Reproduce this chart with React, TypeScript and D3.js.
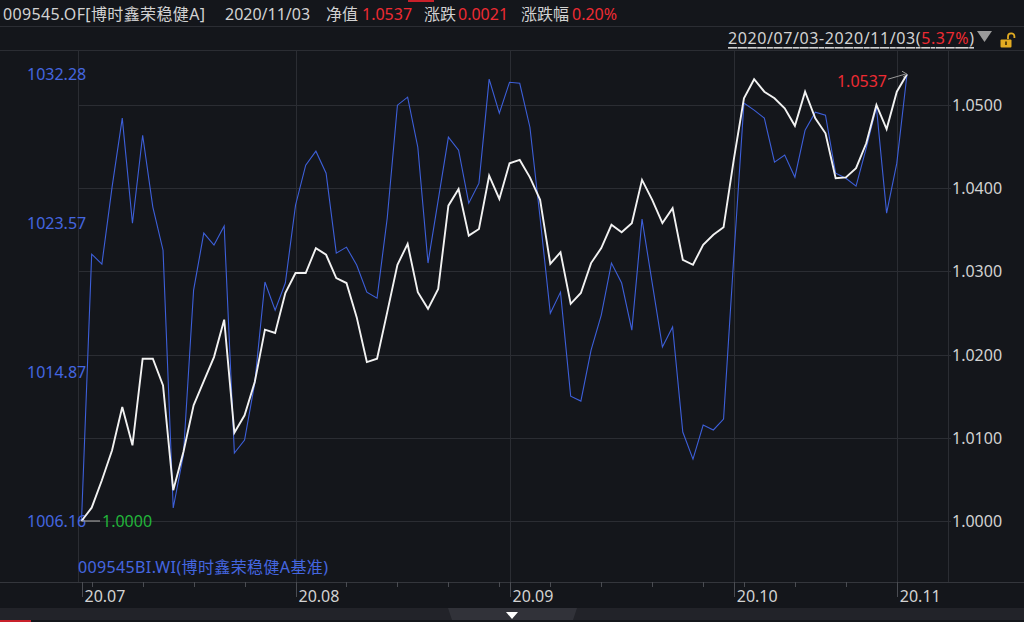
import React from "react";
import * as d3 from "d3";

const tradeDates = [
  "2020-07-03","2020-07-06","2020-07-07","2020-07-08","2020-07-09","2020-07-10","2020-07-13","2020-07-14","2020-07-15","2020-07-16","2020-07-17","2020-07-20","2020-07-21","2020-07-22","2020-07-23","2020-07-24","2020-07-27","2020-07-28","2020-07-29","2020-07-30","2020-07-31",
  "2020-08-03","2020-08-04","2020-08-05","2020-08-06","2020-08-07","2020-08-10","2020-08-11","2020-08-12","2020-08-13","2020-08-14","2020-08-17","2020-08-18","2020-08-19","2020-08-20","2020-08-21","2020-08-24","2020-08-25","2020-08-26","2020-08-27","2020-08-28","2020-08-31",
  "2020-09-01","2020-09-02","2020-09-03","2020-09-04","2020-09-07","2020-09-08","2020-09-09","2020-09-10","2020-09-11","2020-09-14","2020-09-15","2020-09-16","2020-09-17","2020-09-18","2020-09-21","2020-09-22","2020-09-23","2020-09-24","2020-09-25","2020-09-28","2020-09-29","2020-09-30",
  "2020-10-09","2020-10-12","2020-10-13","2020-10-14","2020-10-15","2020-10-16","2020-10-19","2020-10-20","2020-10-21","2020-10-22","2020-10-23","2020-10-26","2020-10-27","2020-10-28","2020-10-29","2020-10-30",
  "2020-11-02","2020-11-03",
];

const navValues = [
  1.0000,1.0016,1.0049,1.0085,1.0137,1.0091,1.0195,1.0195,1.0163,1.0037,
  1.0083,1.0139,1.0168,1.0197,1.0242,1.0106,1.0127,1.0167,1.0230,1.0226,
  1.0274,1.0298,1.0298,1.0328,1.0320,1.0292,1.0286,1.0245,1.0191,1.0195,
  1.0251,1.0308,1.0333,1.0275,1.0255,1.0279,1.0379,1.0399,1.0343,1.0351,
  1.0415,1.0387,1.0430,1.0434,1.0413,1.0386,1.0309,1.0323,1.0261,1.0274,
  1.0310,1.0328,1.0356,1.0347,1.0358,1.0410,1.0386,1.0358,1.0376,1.0314,
  1.0308,1.0332,1.0344,1.0353,1.0434,1.0508,1.0531,1.0516,1.0508,1.0496,
  1.0475,1.0516,1.0484,1.0466,1.0412,1.0413,1.0424,1.0454,1.0500,1.0471,
  1.0516,1.0537,
];

const benchValues = [
  1006.16,1021.76,1021.18,1025.68,1029.71,1023.57,1028.71,1024.51,1021.99,1006.92,
  1010.02,1019.66,1022.99,1022.29,1023.40,1010.13,1010.89,1014.22,1020.13,1018.49,
  1020.07,1024.62,1026.96,1027.78,1026.49,1021.82,1022.17,1021.12,1019.54,1019.19,
  1023.87,1030.47,1030.94,1028.01,1021.24,1024.92,1028.60,1027.84,1024.74,1025.91,
  1031.99,1030.00,1031.81,1031.75,1029.18,1023.87,1018.31,1019.54,1013.46,1013.17,
  1016.15,1018.20,1021.24,1020.07,1017.32,1023.81,1020.07,1016.33,1017.50,1011.36,
  1009.78,1011.77,1011.48,1012.12,1021.53,1030.59,1030.18,1029.71,1027.14,1027.55,
  1026.26,1029.01,1030.06,1029.88,1026.49,1026.20,1025.74,1027.96,1030.35,1024.16,
  1027.08,1032.28,
];

const navTicks = [1.0, 1.01, 1.02, 1.03, 1.04, 1.05];
const benchTicks = [1006.16, 1014.87, 1023.57, 1032.28];
const monthLabels = ["20.07", "20.08", "20.09", "20.10", "20.11"];

const fundTitle = "009545.OF[博时鑫荣稳健A]";
const benchTitle = "009545BI.WI(博时鑫荣稳健A基准)";
const lastDate = "2020/11/03";
const navText = "1.0537";
const chgText = "0.0021";
const pctText = "0.20%";
const rangeText = "2020/07/03-2020/11/03(";
const rangePct = "5.37%";

const W = 1024;
const H = 622;
const BG = "#14161b";
const GRID = "#2b2d33";
const FONT = "'Noto Sans', 'Noto Sans CJK SC', sans-serif";
const GRAY = "#d2d2d2";
const RED = "#ee2b33";
const BLUE = "#4466e0";

export default function App() {
  const plotL = 78, plotR = 948, plotT = 50, axisY = 582;
  const x = d3.scalePoint<string>().domain(tradeDates).range([81.5, 907]);
  const yNav = d3.scaleLinear().domain([1.0, 1.0537]).range([521, 74.2]);
  const yBench = d3.scaleLinear().domain([1006.16, 1032.28]).range([521, 74.2]);

  const navLine = d3.line<number>().x((_, i) => x(tradeDates[i])!).y((d) => yNav(d));
  const benchLine = d3.line<number>().x((_, i) => x(tradeDates[i])!).y((d) => yBench(d));

  const monthStarts: string[] = [];
  tradeDates.forEach((d, i) => {
    if (i === 0 || d.slice(5, 7) !== tradeDates[i - 1].slice(5, 7)) monthStarts.push(d);
  });
  const mondays = tradeDates.filter((d) => new Date(d + "T00:00:00Z").getUTCDay() === 1);

  const first = tradeDates[0];
  const last = tradeDates[tradeDates.length - 1];
  const x0 = x(first)!;
  const y0 = yNav(navValues[0]);
  const xl = x(last)!;
  const yl = yNav(navValues[navValues.length - 1]);

  return (
    <svg width={W} height={H} style={{ position: "absolute", left: 0, top: 0, background: BG }} fontFamily={FONT}>
      <rect x={0} y={0} width={W} height={H} fill={BG} />
      {/* header */}
      <rect x={408} y={0} width={26} height={2} fill="#c8202a" />
      <line x1={0} x2={W} y1={26.5} y2={26.5} stroke={GRID} />
      <line x1={0} x2={W} y1={50.5} y2={50.5} stroke={GRID} />
      <g fontSize={16} dominantBaseline="central">
        <text x={3} y={14} fill={GRAY} textLength={202} lengthAdjust="spacing">{fundTitle}</text>
        <text x={225} y={14} fill={GRAY}>{lastDate}</text>
        <text x={326} y={14} fill={GRAY}>净值</text>
        <text x={362} y={14} fill={RED}>{navText}</text>
        <text x={424} y={14} fill={GRAY}>涨跌</text>
        <text x={458} y={14} fill={RED}>{chgText}</text>
        <text x={521} y={14} fill={GRAY}>涨跌幅</text>
        <text x={572} y={14} fill={RED}>{pctText}</text>
        <text x={728} y={38} fill={GRAY} textLength={246} lengthAdjust="spacing" style={{ textDecoration: "underline" }}>
          {rangeText}
          <tspan fill={RED}>{rangePct}</tspan>
          <tspan fill={GRAY}>)</tspan>
        </text>
      </g>
      <polygon points="977,31 992,31 984.5,42" fill="#9a9a9a" />
      <g>
        <path d="M1008,39 L1008,36.5 A3.2,3.2 0 0 1 1014.4,36.5 L1014.4,38" fill="none" stroke="#e3ac22" strokeWidth={1.8} />
        <rect x={1000.5} y={39.5} width={11} height={8} rx={1} fill="#e3ac22" />
        <rect x={1005.2} y={41.5} width={1.6} height={3.5} fill="#3a2a05" />
      </g>

      {/* grid */}
      {navTicks.map((t) => (
        <line key={t} x1={plotL} x2={plotR + 3} y1={Math.round(yNav(t)) + 0.5} y2={Math.round(yNav(t)) + 0.5} stroke={GRID} />
      ))}
      {monthStarts.slice(1).map((d) => (
        <line key={d} x1={Math.round(x(d)!) + 0.5} x2={Math.round(x(d)!) + 0.5} y1={plotT} y2={axisY} stroke={GRID} />
      ))}
      <line x1={plotL + 0.5} x2={plotL + 0.5} y1={plotT} y2={axisY} stroke={GRID} />
      <line x1={plotR + 0.5} x2={plotR + 0.5} y1={plotT} y2={axisY} stroke={GRID} />
      <line x1={0} x2={W} y1={axisY + 0.5} y2={axisY + 0.5} stroke="#34363c" />

      {/* x ticks */}
      {mondays.map((d) => (
        <line key={d} x1={Math.round(x(d)!) + 0.5} x2={Math.round(x(d)!) + 0.5} y1={axisY} y2={axisY + 5} stroke="#4a4c52" />
      ))}
      {monthStarts.map((d, i) => (
        <g key={d}>
          <line x1={Math.round(x(d)!) + 0.5} x2={Math.round(x(d)!) + 0.5} y1={axisY} y2={axisY + 15} stroke="#4a4c52" />
          <text x={x(d)! + 3} y={596} fontSize={16} fill={GRAY} dominantBaseline="central">{monthLabels[i]}</text>
        </g>
      ))}

      {/* axis labels */}
      {benchTicks.map((t) => (
        <text key={t} x={27} y={yBench(t)} fontSize={16} fill={BLUE} dominantBaseline="central">{t.toFixed(2)}</text>
      ))}
      {navTicks.map((t) => (
        <text key={t} x={952} y={yNav(t)} fontSize={16} fill={GRAY} dominantBaseline="central">{t.toFixed(4)}</text>
      ))}

      {/* lines */}
      <path d={benchLine(benchValues)!} fill="none" stroke="#3d5fd9" strokeWidth={1.1} />
      <path d={navLine(navValues)!} fill="none" stroke="#f2f2f2" strokeWidth={1.9} strokeLinejoin="miter" />

      {/* start / end markers */}
      <line x1={x0} x2={100} y1={y0} y2={y0} stroke="#9a9a9a" strokeWidth={1.2} />
      <text x={102} y={y0} fontSize={16} fill="#22b43a" dominantBaseline="central">{navValues[0].toFixed(4)}</text>
      <line x1={888} x2={xl - 2} y1={yl + 5} y2={yl} stroke="#9a9a9a" strokeWidth={1} />
      <path d={`M${xl - 5},${yl - 3} L${xl},${yl} L${xl - 4},${yl + 3}`} fill="none" stroke="#9a9a9a" strokeWidth={1} />
      <text x={887} y={81} fontSize={16} fill={RED} textAnchor="end" dominantBaseline="central">{navValues[navValues.length - 1].toFixed(4)}</text>

      <text x={78} y={567} fontSize={16} fill={BLUE} dominantBaseline="central" textLength={250} lengthAdjust="spacing">{benchTitle}</text>

      {/* scrollbar */}
      <rect x={0} y={608} width={W} height={12} fill="#222329" />
      <path d="M448,608 L577,608 L573,620 L452,620 Z" fill="#313239" />
      <polygon points="506,612 518,612 512,619" fill="#ffffff" />
      <rect x={0} y={620} width={31} height={2} fill="#c8202a" />
    </svg>
  );
}
